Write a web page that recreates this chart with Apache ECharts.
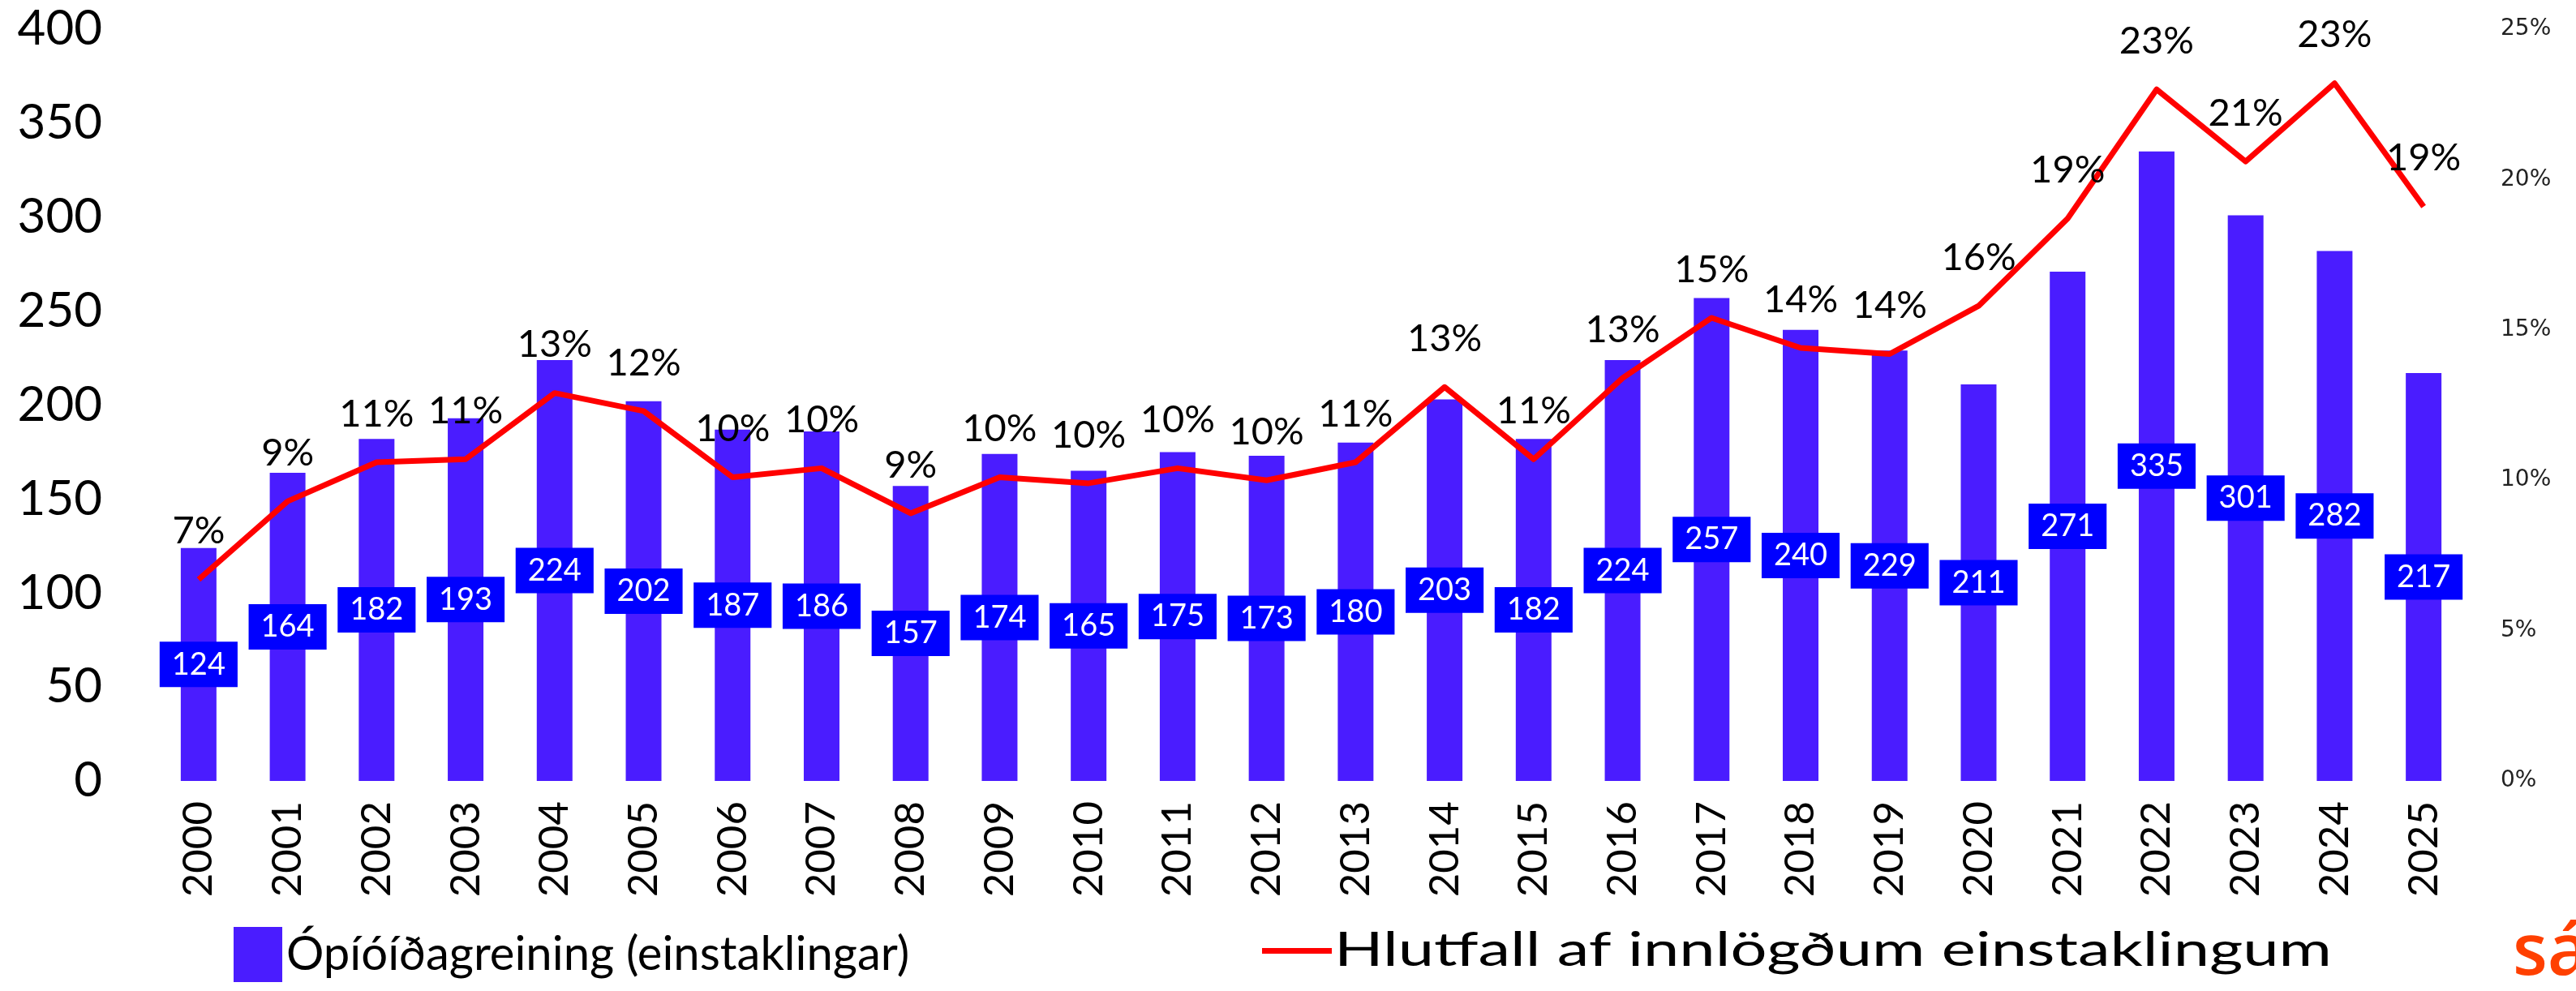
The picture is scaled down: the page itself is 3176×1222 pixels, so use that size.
<!DOCTYPE html>
<html>
<head>
<meta charset="utf-8">
<script src="https://cdn.jsdelivr.net/npm/echarts@6/dist/echarts.min.js"></script>
<style>
  html, body { margin: 0; padding: 0; background: #fff; }
  #chart { width: 3176px; height: 1222px; }
</style>
</head>
<body>
<div id="chart"></div>
<script>
// Years on the category axis
const years = ['2000','2001','2002','2003','2004','2005','2006','2007','2008','2009',
  '2010','2011','2012','2013','2014','2015','2016','2017','2018','2019',
  '2020','2021','2022','2023','2024','2025'];

// Opioid diagnoses (number of individuals)
const opioidCases = [124,164,182,193,224,202,187,186,157,174,
  165,175,173,180,203,182,224,257,240,229,
  211,271,335,301,282,217];

// Share of admitted individuals, in percent
const shareOfAdmitted = [6.7,9.3,10.6,10.7,12.9,12.3,10.1,10.4,8.9,10.1,
  9.9,10.4,10.0,10.6,13.1,10.7,13.4,15.4,14.4,14.2,
  15.8,18.7,23.0,20.6,23.2,19.1];

// Axis tick settings
const leftTicks = { min: 0, max: 400, interval: 50 };
const rightTicks = { min: 0, max: 25, interval: 5 };

const barName = 'Ópíóíðagreining (einstaklingar)';
const lineName = 'Hlutfall af innlögðum einstaklingum';

const chart = echarts.init(document.getElementById('chart'));

chart.setOption({
  animation: false,
  backgroundColor: '#ffffff',
  textStyle: { fontFamily: 'Lato' },
  grid: { left: 190, right: 133, top: 36, bottom: 259 },
  legend: [
    {
      data: [barName],
      left: 283,
      top: 1138,
      icon: 'rect',
      itemWidth: 60,
      itemHeight: 68,
      itemGap: 0,
      textStyle: { fontFamily: 'Lato', fontSize: 58, color: '#000' }
    },
    {
      // icon only; the wide caption is drawn by the graphic text below
      data: [lineName],
      left: 1556,
      top: 1169,
      icon: 'rect',
      itemWidth: 86,
      itemHeight: 7,
      itemGap: 0,
      padding: 0,
      formatter: () => '',
      itemStyle: { color: '#ff0000' },
      textStyle: { fontSize: 1 }
    }
  ],
  xAxis: {
    type: 'category',
    data: years,
    axisLine: { show: false },
    axisTick: { show: false },
    axisLabel: {
      rotate: 90,
      margin: 25,
      fontFamily: 'Lato',
      fontSize: 51,
      color: '#000'
    }
  },
  yAxis: [
    {
      type: 'value',
      min: leftTicks.min,
      max: leftTicks.max,
      interval: leftTicks.interval,
      axisLine: { show: false },
      axisTick: { show: false },
      splitLine: { show: false },
      axisLabel: { fontFamily: 'Lato', fontSize: 60, color: '#000', margin: 64 }
    },
    {
      type: 'value',
      min: rightTicks.min,
      max: rightTicks.max,
      interval: rightTicks.interval,
      position: 'right',
      axisLine: { show: false },
      axisTick: { show: false },
      splitLine: { show: false },
      axisLabel: {
        fontFamily: 'DejaVu Sans',
        fontSize: 28,
        color: '#222',
        margin: 40,
        formatter: '{value}%'
      }
    }
  ],
  series: [
    {
      name: barName,
      type: 'bar',
      data: opioidCases,
      barWidth: 44,
      itemStyle: { color: '#4a1cff' },
      label: {
        show: true,
        position: 'inside',
        color: '#ffffff',
        fontFamily: 'Lato',
        fontSize: 38,
        backgroundColor: '#0000ff',
        padding: [10, 15, 8, 15]
      },
      z: 2
    },
    {
      name: lineName,
      type: 'line',
      yAxisIndex: 1,
      data: shareOfAdmitted,
      symbol: 'circle',
      symbolSize: 0,
      showSymbol: true,
      lineStyle: { color: '#ff0000', width: 7, join: 'round' },
      itemStyle: { color: '#ff0000' },
      label: {
        show: true,
        position: 'top',
        distance: 36,
        fontFamily: 'Lato',
        fontSize: 47,
        color: '#000',
        formatter: p => Math.round(p.value) + '%'
      },
      z: 3
    }
  ],
  graphic: [
    {
      // caption of the line series legend, drawn wide
      type: 'text',
      x: 1645,
      y: 1172,
      scaleX: 1.37,
      style: {
        text: lineName,
        fontFamily: 'Lato',
        fontSize: 58,
        fill: '#000',
        verticalAlign: 'middle'
      }
    },
    {
      type: 'text',
      x: 3098,
      y: 1177,
      style: {
        text: 'sá',
        fontFamily: 'Open Sans',
        fontWeight: 600,
        fontSize: 88,
        fill: '#ff4000',
        verticalAlign: 'middle'
      }
    }
  ]
});
</script>
</body>
</html>
